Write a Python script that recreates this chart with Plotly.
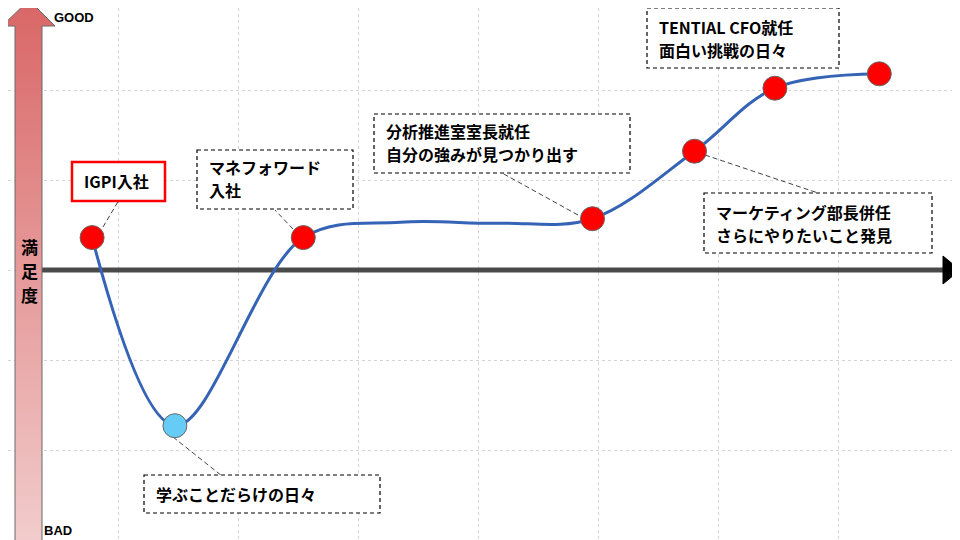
import plotly.graph_objects as go

# ---- data (x: time in grid units, y: satisfaction; 0 = neutral axis) ----
event_labels = ["IGPI入社", "学ぶことだらけの日々", "マネフォワード入社", "分析推進室室長就任",
                "マーケティング部長併任", "TENTIAL CFO就任", "現在"]
event_x = [0.78, 1.47, 2.54, 4.95, 5.80, 6.47, 7.34]
event_y = [0.36, -1.73, 0.36, 0.57, 1.32, 2.02, 2.18]
event_colors = ["#FF0000", "#66CCF5", "#FF0000", "#FF0000", "#FF0000", "#FF0000", "#FF0000"]

curve_x = [0.78, 1.47, 2.54, 3.35, 4.18, 4.95, 5.80, 6.47, 7.34]
curve_y = [0.36, -1.73, 0.36, 0.53, 0.52, 0.57, 1.32, 2.02, 2.18]

FONT = "Noto Sans CJK JP"


# screen pixel -> axis coordinate helpers for decorations
def X(px):
    return px / 120 + 0.0125


def Y(py):
    return (270 - py) / 90


# the page body has an 8px margin, so the axes ranges start 8px "earlier"
X_RANGE = [X(8), X(968)]
Y_RANGE = [Y(548), Y(8)]

fig = go.Figure()

# decorative satisfaction arrow
arrow_px = [15, 15, 2, 29, 55, 42, 42, 15]
arrow_py = [548, 26, 26, 0, 26, 26, 548, 548]
fig.add_trace(go.Scatter(
    x=[X(v) for v in arrow_px], y=[Y(v) for v in arrow_py], mode="lines",
    fill="toself", line=dict(color="#6b6b6b", width=1),
    fillgradient=dict(type="vertical", colorscale=[[0, "#F2CDCD"], [1, "#D96666"]]),
    hoverinfo="skip"))

# satisfaction curve
fig.add_trace(go.Scatter(
    x=curve_x, y=curve_y, mode="lines",
    line=dict(color="#3563B5", width=3, shape="spline", smoothing=1.0),
    hoverinfo="skip"))

# event markers
fig.add_trace(go.Scatter(
    x=event_x, y=event_y, mode="markers", text=event_labels,
    marker=dict(size=24, color=event_colors, line=dict(color="#666666", width=1)),
    hoverinfo="text"))

shapes = []
# horizontal time axis arrow
shapes.append(dict(type="line", xref="x", yref="y", x0=X(42), y0=Y(270), x1=X(945), y1=Y(270),
                   line=dict(color="#4A4A4A", width=5), layer="between"))
shapes.append(dict(type="path", xref="x", yref="y",
                   path=f"M {X(943)},{Y(256)} L {X(960)},{Y(270)} L {X(943)},{Y(284)} Z",
                   fillcolor="#000000", line=dict(color="#000000", width=1), layer="between"))

# connectors (marker -> callout)
connectors = [(103, 227, 119, 200), (293, 229, 275, 210), (578, 215, 502, 173),
              (705, 155, 818, 193), (173, 437, 222, 476)]
for x0, y0, x1, y1 in connectors:
    shapes.append(dict(type="line", xref="x", yref="y", x0=X(x0), y0=Y(y0), x1=X(x1), y1=Y(y1),
                       line=dict(color="#444444", width=1, dash="5px,3px"), layer="between"))

# callout boxes
boxes = [(197, 150, 353, 209), (374, 114, 630, 173), (647, 8, 839, 68),
         (704, 193, 932, 253), (144, 475, 380, 513)]
for x0, y0, x1, y1 in boxes:
    shapes.append(dict(type="rect", xref="x", yref="y", x0=X(x0), y0=Y(y0), x1=X(x1), y1=Y(y1),
                       fillcolor="white", line=dict(color="#000000", width=1.2, dash="4px,3px"),
                       layer="between"))
shapes.append(dict(type="rect", xref="x", yref="y", x0=X(72), y0=Y(162), x1=X(165), y1=Y(201),
                   fillcolor="white", line=dict(color="#FF0000", width=2.5), layer="between"))

annotations = []
texts = [
    (82, 181, "IGPI入社"),
    (207, 167, "マネフォワード"),
    (207, 190, "入社"),
    (384, 131, "分析推進室室長就任"),
    (384, 154, "自分の強みが見つかり出す"),
    (657, 27, "TENTIAL CFO就任"),
    (657, 50, "面白い挑戦の日々"),
    (714, 212, "マーケティング部長併任"),
    (714, 235, "さらにやりたいこと発見"),
    (154, 494, "学ぶことだらけの日々"),
]
for x, y, t in texts:
    annotations.append(dict(xref="x", yref="y", x=X(x), y=Y(y), text=t, showarrow=False,
                            xanchor="left", yanchor="middle", align="left",
                            font=dict(family=FONT, size=16, color="#000000", weight="bold")))

annotations.append(dict(xref="x", yref="y", x=X(52), y=Y(17), text="GOOD", showarrow=False,
                        xanchor="left", yanchor="middle",
                        font=dict(family="Liberation Sans", size=13, color="#000000", weight="bold")))
annotations.append(dict(xref="x", yref="y", x=X(42), y=Y(530), text="BAD", showarrow=False,
                        xanchor="left", yanchor="middle",
                        font=dict(family="Liberation Sans", size=13, color="#000000", weight="bold")))
for ch, py in zip(["満", "足", "度"], [246, 270, 294]):
    annotations.append(dict(xref="x", yref="y", x=X(29), y=Y(py), text=ch, showarrow=False,
                            xanchor="center", yanchor="middle",
                            font=dict(family=FONT, size=17, color="#000000", weight="bold")))

grid = dict(showgrid=True, gridcolor="#D4D4D4", gridwidth=1, griddash="dot",
            zeroline=False, showticklabels=False, ticks="", showline=False)

fig.update_layout(
    width=960, height=540, margin=dict(l=0, r=0, t=0, b=0, pad=0),
    paper_bgcolor="white", plot_bgcolor="white", showlegend=False,
    xaxis=dict(range=X_RANGE, dtick=1, tick0=0, **grid),
    yaxis=dict(range=Y_RANGE, dtick=1, tick0=0, **grid),
    shapes=shapes, annotations=annotations,
)

fig.write_html("out.html")
